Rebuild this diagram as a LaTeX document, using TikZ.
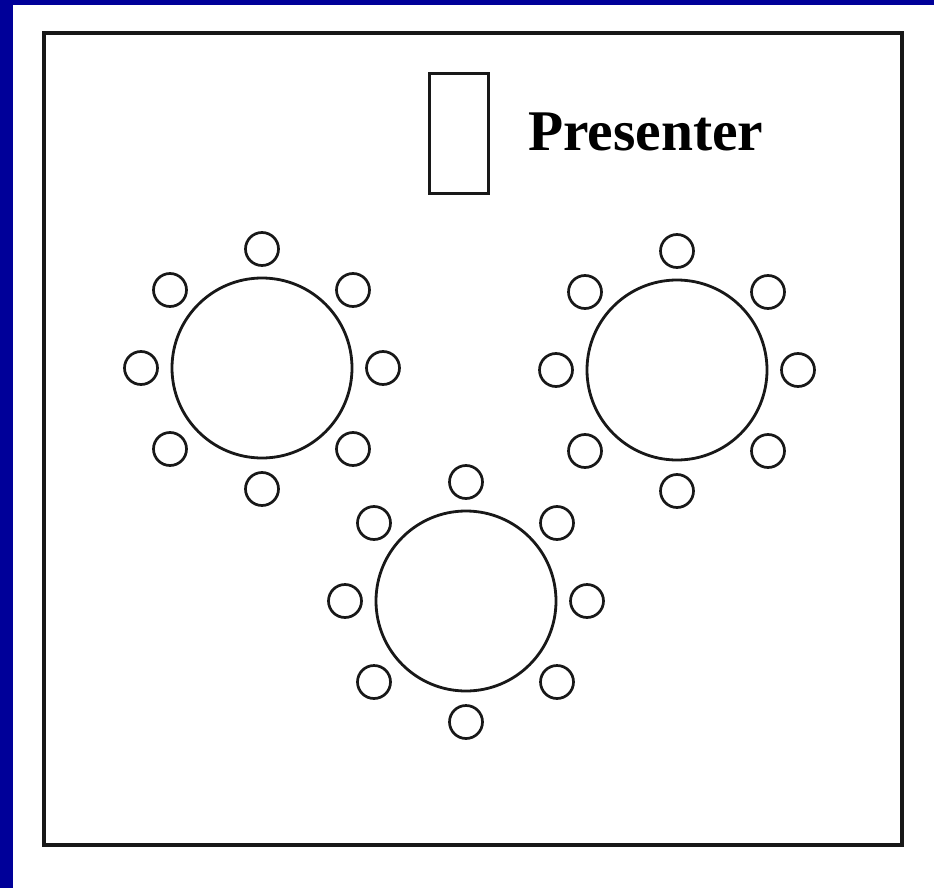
\documentclass[tikz,border=0pt]{standalone}
\usepackage{fontspec}
\setmainfont{Liberation Serif}
\definecolor{edgeblue}{RGB}{0,0,153}
\definecolor{ink}{RGB}{24,24,24}
\tikzset{
  table/.style={circle, draw=ink, line width=2.8pt, minimum size=180pt, inner sep=0pt},
  seat/.style={circle, draw=ink, line width=2.7pt, minimum size=33pt, inner sep=0pt},
  podium/.style={draw=ink, line width=3.2pt, minimum width=59pt, minimum height=120pt, inner sep=0pt},
}
\begin{document}
\begin{tikzpicture}[x=1pt, y=-1pt]
  \useasboundingbox (0,0) rectangle (934,888);
  \fill[white] (0,0) rectangle (934,888);
  % blue edge strips
  \fill[edgeblue] (0,0) rectangle (13,888);
  \fill[edgeblue] (0,0) rectangle (934,5);
  % room outline
  \draw[ink, line width=4pt] (44,33) rectangle (902,845);
  % presenter's stand and label
  \node[podium] (stand) at (459,133.5) {};
  \node[anchor=base west, inner sep=0pt, font=\fontsize{57.5}{60}\selectfont\bfseries] (label) at (528,150) {Presenter};
  % three round tables, each with eight seats
  \foreach \name/\cx/\cy in {left/262/368, right/677/370, front/466/601} {
    \node[table] (\name) at (\cx,\cy) {};
    \node[seat] (\name-n)  at (\cx,\cy-119) {};
    \node[seat] (\name-s)  at (\cx,\cy+121) {};
    \node[seat] (\name-w)  at (\cx-121,\cy) {};
    \node[seat] (\name-e)  at (\cx+121,\cy) {};
    \node[seat] (\name-nw) at (\cx-92,\cy-78) {};
    \node[seat] (\name-ne) at (\cx+91,\cy-78) {};
    \node[seat] (\name-sw) at (\cx-92,\cy+81) {};
    \node[seat] (\name-se) at (\cx+91,\cy+81) {};
  }
\end{tikzpicture}
\end{document}
